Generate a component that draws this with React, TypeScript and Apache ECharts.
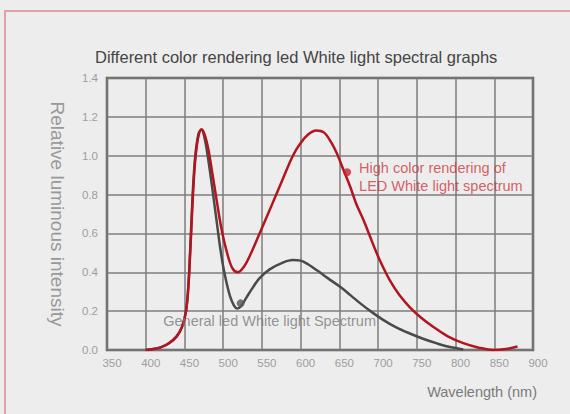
import React, { useEffect, useRef } from "react";
import * as echarts from "echarts";

const titleText = "Different color rendering led White light spectral graphs";
const xAxisName = "Wavelength (nm)";
const yAxisName = "Relative luminous intensity";
const xMin = 350;
const xMax = 900;
const xStep = 50;
const yMin = 0;
const yMax = 1.4;
const yStep = 0.2;

// High color rendering LED (red)
const highCriWavelengths = [400, 410, 420, 430, 440, 447, 452, 455, 458, 461, 464, 468, 472, 476, 481, 486, 492, 498, 505, 512, 519, 527, 535, 547, 560, 577, 590, 600, 610, 620, 630, 640, 647, 655, 664, 672, 681, 690, 698, 706, 715, 728, 741, 756, 771, 790, 810, 830, 849, 865, 880];
const highCriValues = [0.0, 0.005, 0.015, 0.035, 0.07, 0.12, 0.2, 0.32, 0.55, 0.8, 0.98, 1.1, 1.135, 1.11, 1.03, 0.91, 0.76, 0.62, 0.5, 0.42, 0.4, 0.43, 0.49, 0.6, 0.72, 0.88, 1.0, 1.065, 1.11, 1.13, 1.12, 1.065, 1.01, 0.93, 0.84, 0.75, 0.67, 0.58, 0.5, 0.43, 0.36, 0.28, 0.22, 0.165, 0.12, 0.07, 0.035, 0.012, 0.0, 0.005, 0.018];

// General LED (gray)
const generalWavelengths = [400, 410, 420, 430, 440, 447, 452, 455, 458, 461, 464, 468, 472, 476, 480, 485, 491, 496, 500, 505, 509, 514, 518, 523, 530, 538, 547, 560, 577, 590, 600, 610, 621, 635, 651, 665, 677, 692, 707, 724, 741, 758, 776, 793, 810];
const generalValues = [0.0, 0.005, 0.015, 0.035, 0.07, 0.12, 0.2, 0.33, 0.57, 0.83, 1.0, 1.11, 1.135, 1.09, 1.0, 0.86, 0.68, 0.53, 0.43, 0.335, 0.275, 0.228, 0.213, 0.225, 0.27, 0.32, 0.37, 0.415, 0.45, 0.463, 0.46, 0.44, 0.41, 0.37, 0.325, 0.28, 0.24, 0.195, 0.154, 0.115, 0.085, 0.058, 0.034, 0.015, 0.003];

const highCriMarker = [660, 0.915];
const highCriLabel = "High color rendering of\nLED White light spectrum";
const generalMarker = [522.5, 0.24];
const generalLabel = "General led White light Spectrum";

const FONT = "'Liberation Sans', Arial, Helvetica, sans-serif";

export default function App() {
  const ref = useRef<HTMLDivElement>(null);

  useEffect(() => {
    if (!ref.current) return;
    const chart = echarts.init(ref.current, null, { renderer: "svg" });
    const red = highCriWavelengths.map((x, i) => [x, highCriValues[i]]);
    const gray = generalWavelengths.map((x, i) => [x, generalValues[i]]);

    chart.setOption({
      animation: false,
      backgroundColor: "#ededed",
      textStyle: { fontFamily: FONT },
      title: {
        text: titleText,
        left: 90,
        top: 43,
        textStyle: { fontSize: 16.5, fontWeight: "normal", color: "#444", fontFamily: FONT },
      },
      graphic: [
        {
          type: "rect",
          shape: { x: 5, y: 11, width: 600, height: 450 },
          style: { fill: "none", stroke: "#e3a1a7", lineWidth: 2 },
          silent: true,
        },
      ],
      grid: {
        left: 107,
        right: 37,
        top: 78,
        bottom: 64,
        containLabel: false,
        outerBoundsMode: "none",
        show: true,
        borderColor: "#5a5a5a",
        borderWidth: 2.5,
        backgroundColor: "transparent",
      },
      xAxis: {
        type: "value",
        min: xMin,
        max: xMax,
        interval: xStep,
        name: xAxisName,
        nameLocation: "end",
        nameGap: 4,
        nameTextStyle: {
          color: "#7a7a7a",
          fontSize: 14.5,
          align: "right",
          verticalAlign: "top",
          padding: [34, 0, 0, 0],
          fontFamily: FONT,
        },
        axisLine: { show: false },
        axisTick: { show: false },
        axisLabel: {
          color: "#9d9d9d",
          fontSize: 11.5,
          margin: 7,
          padding: [0, 0, 0, 10],
          fontFamily: FONT,
        },
        splitLine: { show: true, lineStyle: { color: "#7c7c7c", width: 1.5 } },
      },
      yAxis: {
        type: "value",
        min: yMin,
        max: yMax,
        interval: yStep,
        name: yAxisName,
        nameLocation: "middle",
        nameRotate: -90,
        nameGap: 40,
        nameTextStyle: { color: "#999", fontSize: 19, fontFamily: FONT },
        axisLine: { show: false },
        axisTick: { show: false },
        axisLabel: {
          color: "#9d9d9d",
          fontSize: 11.5,
          margin: 9,
          padding: [10, 0, 0, 0],
          formatter: (v: number) => v.toFixed(1),
          fontFamily: FONT,
        },
        splitLine: { show: true, lineStyle: { color: "#7c7c7c", width: 1.5 } },
      },
      series: [
        {
          type: "line",
          name: "General",
          data: gray,
          smooth: 0.35,
          showSymbol: false,
          lineStyle: { color: "#4a4a4a", width: 2.5 },
          z: 3,
        },
        {
          type: "line",
          name: "High CRI",
          data: red,
          smooth: 0.35,
          showSymbol: false,
          lineStyle: { color: "#b3141d", width: 2.5 },
          z: 4,
        },
        {
          type: "scatter",
          data: [highCriMarker],
          symbolSize: 8,
          itemStyle: { color: "#c8202a" },
          label: {
            show: true,
            position: "right",
            distance: 8,
            offset: [0, 5],
            formatter: highCriLabel,
            color: "#cc3a3f",
            fontSize: 14.5,
            lineHeight: 18,
            fontFamily: FONT,
          },
          z: 5,
        },
        {
          type: "scatter",
          data: [generalMarker],
          symbolSize: 8,
          itemStyle: { color: "#555" },
          label: {
            show: true,
            position: "bottom",
            distance: 3,
            offset: [29, 3],
            formatter: generalLabel,
            color: "#7a7a7a",
            fontSize: 14.5,
            fontFamily: FONT,
          },
          z: 5,
        },
      ],
    });
    return () => chart.dispose();
  }, []);

  return (
    <div
      ref={ref}
      style={{ position: "fixed", left: 0, top: 0, width: 570, height: 414 }}
    />
  );
}
